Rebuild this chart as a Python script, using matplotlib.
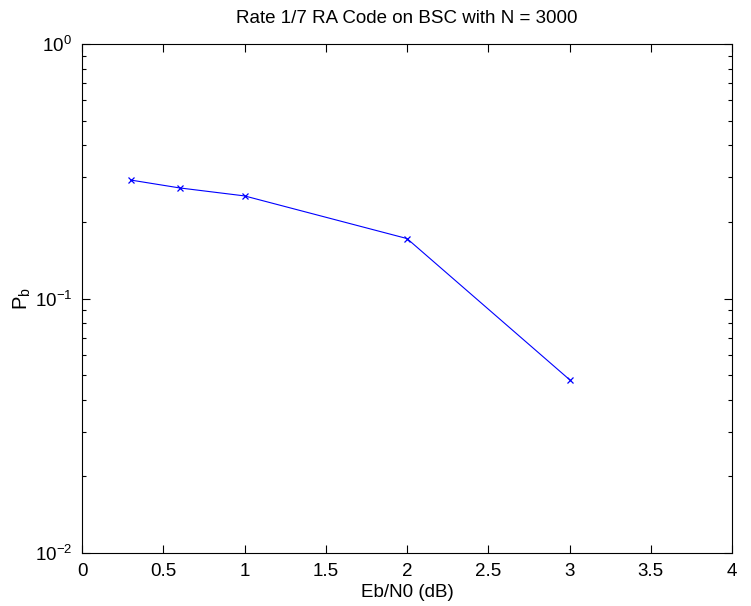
import matplotlib
matplotlib.use("Agg")
import matplotlib.pyplot as plt
from matplotlib.ticker import LogLocator, FixedLocator, NullFormatter

plt.rcParams['font.family'] = ['Liberation Sans', 'DejaVu Sans']
plt.rcParams['mathtext.fontset'] = 'custom'
plt.rcParams['mathtext.rm'] = 'Liberation Sans'

ebn0 = [0.3, 0.6, 1.0, 2.0, 3.0]
pb = [0.292, 0.272, 0.253, 0.172, 0.048]
xticks = [0, 0.5, 1, 1.5, 2, 2.5, 3, 3.5, 4]
xticklabels = ['0', '0.5', '1', '1.5', '2', '2.5', '3', '3.5', '4']

fs = 13.5
fig = plt.figure(figsize=(7.51, 6.06), dpi=100)
ax = fig.add_axes([82/751, 53/606, 650/751, 509/606])
ax.plot(ebn0, pb, color='#0000ff', linewidth=0.8, marker='x', markersize=5, markeredgewidth=0.9)
ax.set_yscale('log')
ax.set_xlim(0, 4)
ax.set_ylim(1e-2, 1)
ax.set_xticks(xticks)
ax.set_xticklabels(xticklabels)
ax.yaxis.set_major_locator(FixedLocator([1e-2, 1e-1, 1]))
ax.yaxis.set_minor_locator(LogLocator(base=10, subs=range(2, 10)))
ax.yaxis.set_minor_formatter(NullFormatter())
ax.tick_params(which='both', direction='in', top=True, right=True, labelsize=fs, width=0.8, colors='black')
ax.tick_params(which='major', length=6, pad=7)
ax.tick_params(which='minor', length=3)
for s in ax.spines.values():
    s.set_linewidth(0.8)
ax.set_title('Rate 1/7 RA Code on BSC with N = 3000', fontsize=fs, pad=15)
ax.set_xlabel('Eb/N0 (dB)', fontsize=fs, labelpad=3)
ax.set_ylabel(r'P$_{\rm b}$', fontsize=fs + 1, labelpad=1)
fig.savefig('out.png', dpi=100)
